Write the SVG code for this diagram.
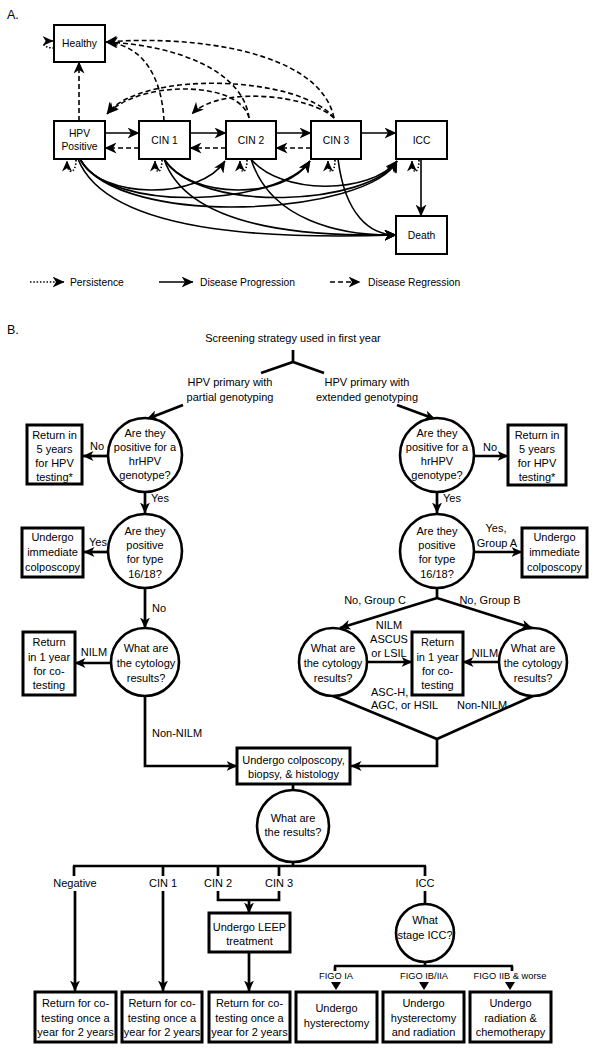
<svg xmlns="http://www.w3.org/2000/svg" width="599" height="1050" viewBox="0 0 599 1050">
<style>
.t{font-family:"Liberation Sans",Arial,sans-serif;font-size:11px;text-anchor:middle;fill:#000}
.ta{font-family:"Liberation Sans",Arial,sans-serif;font-size:10.3px;text-anchor:middle;fill:#000}
.s{text-anchor:start}
.sm{font-size:9.3px}
.hd{font-family:"Liberation Sans",Arial,sans-serif;font-size:12.5px;fill:#000}
.box{fill:#fff;stroke:#000;stroke-width:3}
.boxA{fill:#fff;stroke:#000;stroke-width:2}
.circ{fill:#fff;stroke:#000;stroke-width:2.6}
.ln{fill:none;stroke:#000;stroke-width:2.7}
.lnA{fill:none;stroke:#000;stroke-width:1.6}
.dash{stroke-dasharray:5 3}
.dot{stroke-dasharray:1.5 1.8}
</style>
<defs>
<marker id="mA" viewBox="0 0 12 11" refX="11.5" refY="5.5" markerWidth="12" markerHeight="11" markerUnits="userSpaceOnUse" orient="auto"><path d="M0,0 L12,5.5 L0,11 L3.5,5.5 z" fill="#000"/></marker>
<marker id="mP" viewBox="0 0 12 11" refX="11.5" refY="5.5" markerWidth="11" markerHeight="10" markerUnits="userSpaceOnUse" orient="auto"><path d="M0,0 L12,5.5 L0,11 L3.5,5.5 z" fill="#000"/></marker>
<marker id="mB" viewBox="0 0 11 10" refX="10.5" refY="5" markerWidth="11" markerHeight="10" markerUnits="userSpaceOnUse" orient="auto"><path d="M0,0 L11,5 L0,10 L3,5 z" fill="#000"/></marker>
</defs>
<rect width="599" height="1050" fill="#fff"/>

<text class="hd" x="7" y="19">A.</text>
<text class="hd" x="7" y="334">B.</text>

<!-- Part A connectors -->
<g id="connectorsA">
<path class="lnA" d="M105,133 H139" marker-end="url(#mA)"/>
<path class="lnA" d="M190,133 H226" marker-end="url(#mA)"/>
<path class="lnA" d="M276,133 H311" marker-end="url(#mA)"/>
<path class="lnA" d="M361,133 H396" marker-end="url(#mA)"/>
<path class="lnA dash" d="M139,148 H105" marker-end="url(#mA)"/>
<path class="lnA dash" d="M226,148 H190" marker-end="url(#mA)"/>
<path class="lnA dash" d="M311,148 H276" marker-end="url(#mA)"/>
<path class="lnA dash" d="M79,121 V62" marker-end="url(#mA)"/>
<path class="lnA" d="M421,159 V216" marker-end="url(#mA)"/>
<path class="lnA dash" d="M164,121 C162,80 145,45 106,42" marker-end="url(#mA)"/>
<path class="lnA dash" d="M249,118 C243,70 175,45 106,42" marker-end="url(#mA)"/>
<path class="lnA dash" d="M334,118 C320,50 190,35 106,42" marker-end="url(#mA)"/>
<path class="lnA dash" d="M249,118 C240,80 140,80 107,114" marker-end="url(#mA)"/>
<path class="lnA dash" d="M334,118 C300,75 140,70 107,114" marker-end="url(#mA)"/>
<path class="lnA dash" d="M334,118 C310,95 220,85 192,114" marker-end="url(#mA)"/>
<path class="lnA" d="M80,159 C100,200 200,200 225,161" marker-end="url(#mA)"/>
<path class="lnA" d="M80,159 C110,215 280,205 310,161" marker-end="url(#mA)"/>
<path class="lnA" d="M80,159 C120,230 370,215 397,161" marker-end="url(#mA)"/>
<path class="lnA" d="M78,159 C110,240 300,238 396,235" marker-end="url(#mA)"/>
<path class="lnA" d="M164,159 C190,200 285,200 310,161" marker-end="url(#mA)"/>
<path class="lnA" d="M164,159 C200,215 370,205 397,161" marker-end="url(#mA)"/>
<path class="lnA" d="M164,159 C190,235 330,236 396,235" marker-end="url(#mA)"/>
<path class="lnA" d="M251,159 C280,195 370,195 397,161" marker-end="url(#mA)"/>
<path class="lnA" d="M251,159 C270,220 340,236 396,235" marker-end="url(#mA)"/>
<path class="lnA" d="M338,159 C345,215 370,235 396,235" marker-end="url(#mA)"/>
<path class="lnA dot" d="M54,48 C42,48 40,41 53,41" marker-end="url(#mP)"/>
<path class="lnA dot" d="M76,160 C76,174 67,176 67,161" marker-end="url(#mP)"/>
<path class="lnA dot" d="M162,160 C162,174 155,176 155,161" marker-end="url(#mP)"/>
<path class="lnA dot" d="M247,160 C247,174 240,176 240,161" marker-end="url(#mP)"/>
<path class="lnA dot" d="M335,160 C335,174 328,176 328,161" marker-end="url(#mP)"/>
<path class="lnA dot" d="M419,160 C419,174 412,176 412,161" marker-end="url(#mP)"/>
</g>

<g id="nodesA">
<g id="healthy"><rect class="boxA" x="54" y="25" width="51" height="37"/><text class="ta" x="79.5" y="47">Healthy</text></g>
<g id="hpv"><rect class="boxA" x="54" y="121" width="51" height="38"/><text class="ta" x="79.5" y="136.5">HPV<tspan x="79.5" dy="13">Positive</tspan></text></g>
<g id="cin1"><rect class="boxA" x="139" y="121" width="51" height="38"/><text class="ta" x="164.5" y="143.5">CIN 1</text></g>
<g id="cin2"><rect class="boxA" x="226" y="121" width="50" height="38"/><text class="ta" x="251" y="143.5">CIN 2</text></g>
<g id="cin3"><rect class="boxA" x="311" y="121" width="50" height="38"/><text class="ta" x="336" y="143.5">CIN 3</text></g>
<g id="icc"><rect class="boxA" x="396" y="121" width="51" height="38"/><text class="ta" x="421.5" y="143.5">ICC</text></g>
<g id="death"><rect class="boxA" x="396" y="216" width="51" height="38"/><text class="ta" x="421.5" y="238.5">Death</text></g>
</g>

<g id="legend">
<path class="lnA dot" d="M30,282 H64" marker-end="url(#mA)"/>
<text class="ta s" x="70" y="285.5">Persistence</text>
<path class="lnA" d="M159,282 H193" marker-end="url(#mA)"/>
<text class="ta s" x="200" y="285.5">Disease Progression</text>
<path class="lnA dash" d="M330,282 H360" marker-end="url(#mA)"/>
<text class="ta s" x="368" y="285.5">Disease Regression</text>
</g>

<!-- Part B connectors -->
<g id="connectorsB">
<path class="ln" d="M293,350 V362 M261,373 L293,362 L324,373"/>
<path class="ln" d="M183,405 L147,419" marker-end="url(#mB)"/>
<path class="ln" d="M397,405 L435,419" marker-end="url(#mB)"/>
<path class="ln" d="M108,456 H83" marker-end="url(#mB)"/>
<path class="ln" d="M474,456 H508" marker-end="url(#mB)"/>
<path class="ln" d="M145,492 V513" marker-end="url(#mB)"/>
<path class="ln" d="M437,492 V513" marker-end="url(#mB)"/>
<path class="ln" d="M108,552 H84" marker-end="url(#mB)"/>
<path class="ln" d="M474,552 H522" marker-end="url(#mB)"/>
<path class="ln" d="M145,588 V628" marker-end="url(#mB)"/>
<path class="ln" d="M111,663 H75" marker-end="url(#mB)"/>
<path class="ln" d="M437,588 V598"/>
<path class="ln" d="M437,598 L340,628" marker-end="url(#mB)"/>
<path class="ln" d="M437,598 L532,628" marker-end="url(#mB)"/>
<path class="ln" d="M367,662 H412" marker-end="url(#mB)"/>
<path class="ln" d="M499,662 H463" marker-end="url(#mB)"/>
<path class="ln" d="M333,696 L437,739 L533,696"/>
<path class="ln" d="M437,739 V766 H351" marker-end="url(#mB)"/>
<path class="ln" d="M145,696 V766 H237" marker-end="url(#mB)"/>
<path class="ln" d="M293,784 V790"/>
<path class="ln" d="M293,862 V866"/>
<path class="ln" d="M73,866 H426"/>
<path class="ln" d="M74,866 V876 M163,866 V876 M218,866 V876 M279,866 V876 M425,866 V876"/>
<path class="ln" d="M75,891 V991" marker-end="url(#mB)"/>
<path class="ln" d="M163,891 V991" marker-end="url(#mB)"/>
<path class="ln" d="M218,891 V900 H279 V891"/>
<path class="ln" d="M249,900 V913" marker-end="url(#mB)"/>
<path class="ln" d="M249,952 V991" marker-end="url(#mB)"/>
<path class="ln" d="M425,891 V904"/>
<path class="ln" d="M425,962 V966"/>
<path class="ln" d="M334,966 H513 M335,966 V971 M512,966 V971"/>
<polygon points="331,982 341,982 336,990"/>
<polygon points="419,982 429,982 424,990"/>
<polygon points="505,982 515,982 510,990"/>
</g>

<g id="labelsB">
<text class="t" x="293" y="342">Screening strategy used in first year</text>
<text class="t" x="230" y="386">HPV primary with<tspan x="230" dy="15">partial genotyping</tspan></text>
<text class="t" x="367" y="386">HPV primary with<tspan x="367" dy="15">extended genotyping</tspan></text>
<text class="t" x="97" y="450">No</text>
<text class="t" x="490" y="451">No</text>
<text class="t s" x="151" y="502">Yes</text>
<text class="t s" x="443" y="502">Yes</text>
<text class="t" x="98" y="546">Yes</text>
<text class="t" x="496" y="532">Yes,<tspan x="497" dy="15">Group A</tspan></text>
<text class="t s" x="152" y="612">No</text>
<text class="t" x="94" y="656">NILM</text>
<text class="t" x="375" y="604">No, Group C</text>
<text class="t" x="490" y="604">No, Group B</text>
<text class="t" x="389" y="629">NILM<tspan x="389" dy="13.5">ASCUS</tspan><tspan x="389" dy="14">or LSIL</tspan></text>
<text class="t" x="485" y="657">NILM</text>
<text class="t s" x="371" y="696">ASC-H,<tspan x="371" dy="13">AGC, or HSIL</tspan></text>
<text class="t" x="482" y="709">Non-NILM</text>
<text class="t s" x="152" y="737">Non-NILM</text>
<text class="t" x="75" y="887">Negative</text>
<text class="t" x="163" y="887">CIN 1</text>
<text class="t" x="218" y="887">CIN 2</text>
<text class="t" x="279" y="887">CIN 3</text>
<text class="t" x="425" y="887">ICC</text>
<text class="t sm" x="336" y="979">FIGO IA</text>
<text class="t sm" x="424" y="979">FIGO IB/IIA</text>
<text class="t sm" x="510" y="979">FIGO IIB &amp; worse</text>
</g>

<g id="nodesB">
<g id="q1L"><circle class="circ" cx="145" cy="455" r="37"/><text class="t" x="145" y="437">Are they<tspan x="145" dy="14">positive for a</tspan><tspan x="145" dy="14">hrHPV</tspan><tspan x="145" dy="14">genotype?</tspan></text></g>
<g id="q1R"><circle class="circ" cx="437" cy="455" r="37"/><text class="t" x="437" y="437">Are they<tspan x="437" dy="14">positive for a</tspan><tspan x="437" dy="14">hrHPV</tspan><tspan x="437" dy="14">genotype?</tspan></text></g>
<g id="ret5L"><rect class="box" x="27" y="425" width="55" height="59"/><text class="t" x="54.5" y="439">Return in<tspan x="54.5" dy="14">5 years</tspan><tspan x="54.5" dy="14">for HPV</tspan><tspan x="54.5" dy="14">testing*</tspan></text></g>
<g id="ret5R"><rect class="box" x="508" y="425" width="58" height="60"/><text class="t" x="537" y="439">Return in<tspan x="537" dy="14">5 years</tspan><tspan x="537" dy="14">for HPV</tspan><tspan x="537" dy="14">testing*</tspan></text></g>
<g id="q2L"><circle class="circ" cx="145" cy="551" r="37"/><text class="t" x="145" y="535">Are they<tspan x="145" dy="14">positive</tspan><tspan x="145" dy="14">for type</tspan><tspan x="145" dy="15">16/18?</tspan></text></g>
<g id="q2R"><circle class="circ" cx="437" cy="551" r="37"/><text class="t" x="437" y="535">Are they<tspan x="437" dy="14">positive</tspan><tspan x="437" dy="14">for type</tspan><tspan x="437" dy="15">16/18?</tspan></text></g>
<g id="colpL"><rect class="box" x="22" y="528" width="61" height="49"/><text class="t" x="52.5" y="541">Undergo<tspan x="52.5" dy="15">immediate</tspan><tspan x="52.5" dy="15">colposcopy</tspan></text></g>
<g id="colpR"><rect class="box" x="522" y="528" width="65" height="49"/><text class="t" x="554.5" y="541">Undergo<tspan x="554.5" dy="15">immediate</tspan><tspan x="554.5" dy="15">colposcopy</tspan></text></g>
<g id="cytL"><circle class="circ" cx="145" cy="662" r="34"/><text class="t" x="146" y="652">What are<tspan x="146" dy="15">the cytology</tspan><tspan x="146" dy="15">results?</tspan></text></g>
<g id="ret1L"><rect class="box" x="23" y="632" width="52" height="63"/><text class="t" x="49" y="646">Return<tspan x="49" dy="15">in 1 year</tspan><tspan x="49" dy="14">for co-</tspan><tspan x="49" dy="14">testing</tspan></text></g>
<g id="cytC"><circle class="circ" cx="333" cy="662" r="34"/><text class="t" x="333" y="652">What are<tspan x="333" dy="15">the cytology</tspan><tspan x="333" dy="15">results?</tspan></text></g>
<g id="cytB"><circle class="circ" cx="533" cy="662" r="34"/><text class="t" x="533" y="652">What are<tspan x="533" dy="15">the cytology</tspan><tspan x="533" dy="15">results?</tspan></text></g>
<g id="ret1M"><rect class="box" x="412" y="632" width="51" height="63"/><text class="t" x="437.5" y="646">Return<tspan x="437.5" dy="15">in 1 year</tspan><tspan x="437.5" dy="14">for co-</tspan><tspan x="437.5" dy="14">testing</tspan></text></g>
<g id="colpo"><rect class="box" x="237" y="748" width="113" height="36"/><text class="t" x="293.5" y="764">Undergo colposcopy,<tspan x="293.5" dy="14">biopsy, &amp; histology</tspan></text></g>
<g id="results"><circle class="circ" cx="293" cy="826" r="36"/><text class="t" x="293" y="822">What are<tspan x="293" dy="14">the results?</tspan></text></g>
<g id="leep"><rect class="box" x="209" y="913" width="81" height="39"/><text class="t" x="249.5" y="931">Undergo LEEP<tspan x="249.5" dy="14">treatment</tspan></text></g>
<g id="stage"><circle class="circ" cx="425" cy="933" r="29"/><text class="t" x="425" y="924">What<tspan x="425" dy="15">stage ICC?</tspan></text></g>
<g id="b1"><rect class="box" x="35" y="992" width="81" height="50"/><text class="t" x="75.5" y="1007">Return for co-<tspan x="75.5" dy="14.5">testing once a</tspan><tspan x="75.5" dy="14.5">year for 2 years</tspan></text></g>
<g id="b2"><rect class="box" x="122" y="992" width="80" height="50"/><text class="t" x="162" y="1007">Return for co-<tspan x="162" dy="14.5">testing once a</tspan><tspan x="162" dy="14.5">year for 2 years</tspan></text></g>
<g id="b3"><rect class="box" x="209" y="992" width="81" height="50"/><text class="t" x="249.5" y="1007">Return for co-<tspan x="249.5" dy="14.5">testing once a</tspan><tspan x="249.5" dy="14.5">year for 2 years</tspan></text></g>
<g id="b4"><rect class="box" x="296" y="992" width="81" height="50"/><text class="t" x="336.5" y="1012">Undergo<tspan x="336.5" dy="15">hysterectomy</tspan></text></g>
<g id="b5"><rect class="box" x="383" y="992" width="81" height="50"/><text class="t" x="423.5" y="1007">Undergo<tspan x="423.5" dy="14.5">hysterectomy</tspan><tspan x="423.5" dy="14.5">and radiation</tspan></text></g>
<g id="b6"><rect class="box" x="470" y="992" width="81" height="50"/><text class="t" x="510.5" y="1007">Undergo<tspan x="510.5" dy="14.5">radiation &amp;</tspan><tspan x="510.5" dy="14.5">chemotherapy</tspan></text></g>
</g>
</svg>
